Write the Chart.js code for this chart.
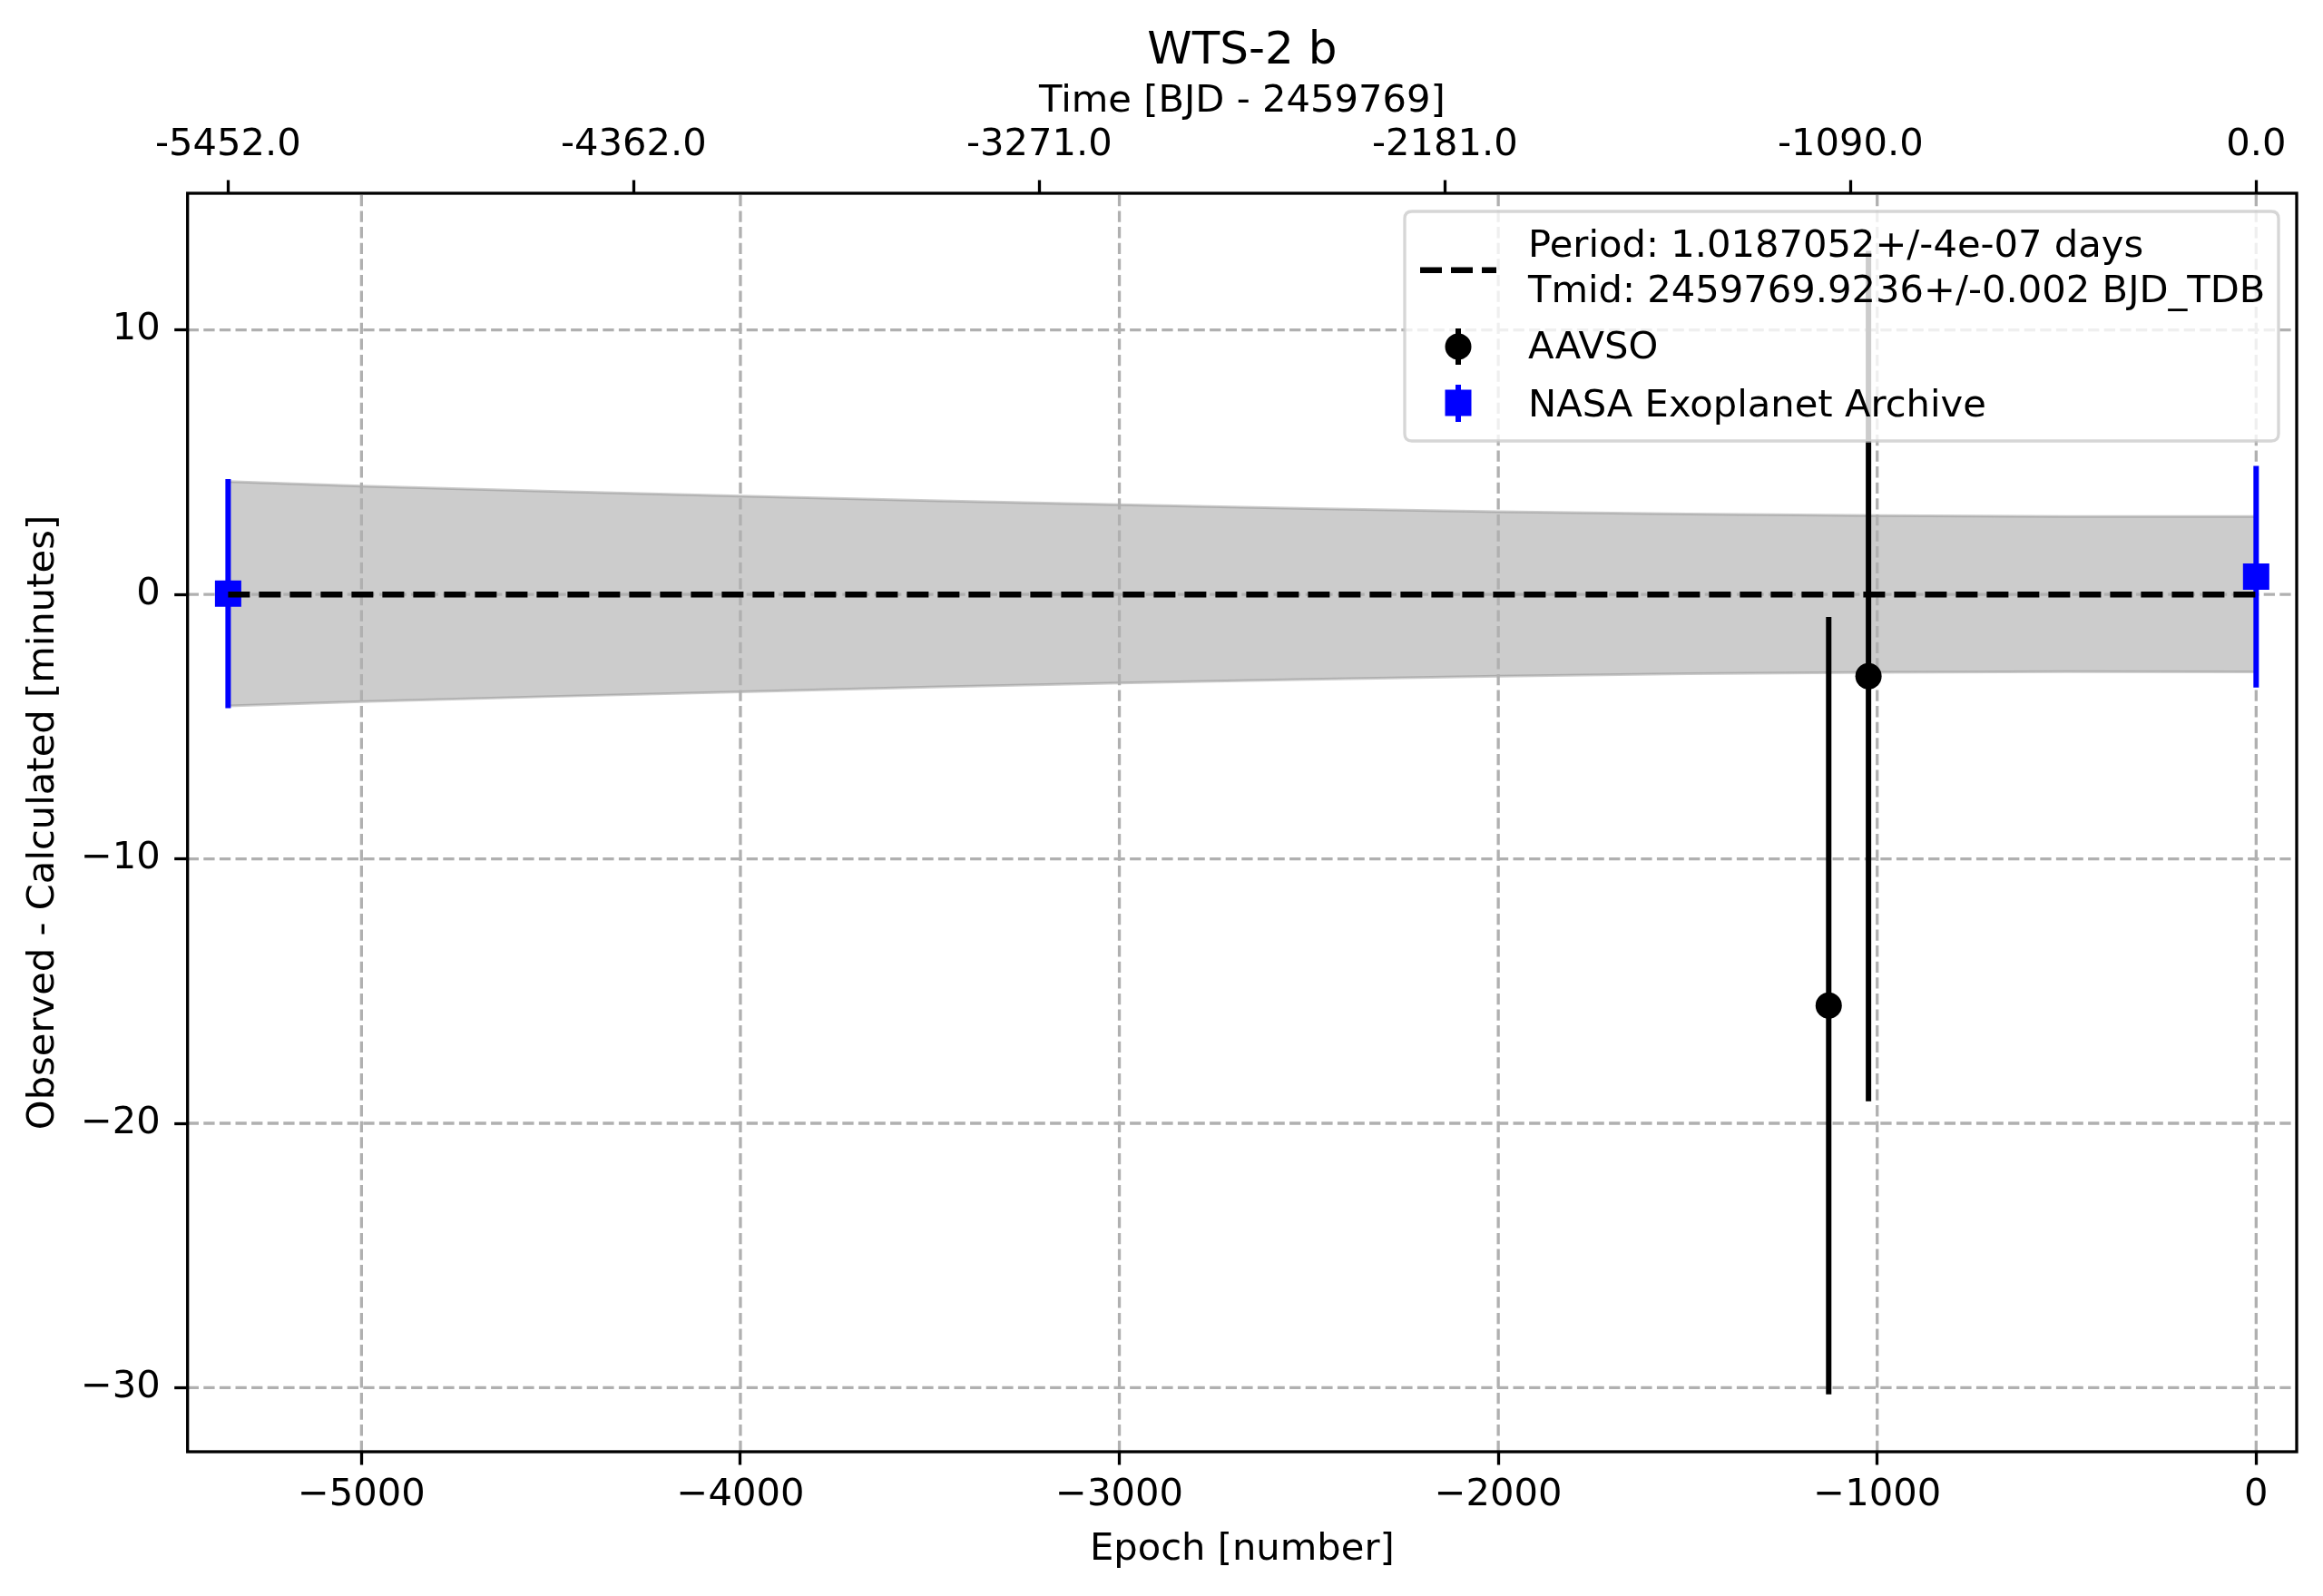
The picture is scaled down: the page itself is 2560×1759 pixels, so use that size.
<!DOCTYPE html>
<html>
<head>
<meta charset="utf-8">
<script src="https://cdn.jsdelivr.net/npm/chart.js@4"></script>
<style>
html, body { margin: 0; padding: 0; background: #ffffff; }
canvas { display: block; }
</style>
</head>
<body>
<canvas id="c" width="2560" height="1759" style="width:2560px;height:1759px"></canvas>
<script>
// ---- text ----
const chartTitle = 'WTS-2 b';
const xAxisTitle = 'Epoch [number]';
const topAxisTitle = 'Time [BJD - 2459769]';
const yAxisTitle = 'Observed - Calculated [minutes]';
const fitLabel = ['Period: 1.0187052+/-4e-07 days', 'Tmid: 2459769.9236+/-0.002 BJD_TDB'];
const aavsoLabel = 'AAVSO';
const nasaLabel = 'NASA Exoplanet Archive';

// ---- data ----
const aavsoEpochs = [-1128, -1023];
const aavsoOC = [-15.55, -3.09];
const aavsoErr = [14.7, 16.08];

const nasaEpochs = [-5352, 0];
const nasaOC = [0.03, 0.67];
const nasaErr = [4.33, 4.19];

const fitEpochs = [-5352, 0];
const fitOC = [0, 0];

const bandEpochs = [-5352, -5000, -4500, -4000, -3500, -3000, -2500, -2000, -1500, -1000, -500, 0];
const bandUpper = [4.27, 4.10, 3.90, 3.72, 3.55, 3.39, 3.25, 3.13, 3.04, 2.98, 2.95, 2.95];
const bandLower = [-4.22, -4.05, -3.86, -3.68, -3.50, -3.35, -3.21, -3.09, -3.00, -2.95, -2.92, -2.93];

// ---- ticks ----
const xTicks = [-5000, -4000, -3000, -2000, -1000, 0];
const xTickLabels = ['\u22125000', '\u22124000', '\u22123000', '\u22122000', '\u22121000', '0'];
const yTicks = [-30, -20, -10, 0, 10];
const yTickLabels = ['\u221230', '\u221220', '\u221210', '0', '10'];
const topTickEpochs = [-5352, -4281.6, -3211.2, -2140.8, -1070.4, 0];
const topTickLabels = ['-5452.0', '-4362.0', '-3271.0', '-2181.0', '-1090.0', '0.0'];

// ---- axis limits ----
const xMin = -5459, xMax = 107;
const yMin = -32.42, yMax = 15.17;

const FAMILY = 'DejaVu Sans';
const FS = 41.67;
const font = (size) => ({ family: FAMILY, size: size, weight: 'normal', lineHeight: 1.2 });
const toPts = (xs, ys) => xs.map((x, i) => ({ x: x, y: ys[i] }));

const gridStyle = { color: '#b0b0b0', width: 3.3, dash: [12.3, 5.3] };

const gridPlugin = {
  id: 'mplGrid',
  afterDatasetDraw(chart, args) {
    if (args.index !== 1) return;
    const ctx = chart.ctx, ca = chart.chartArea;
    const xs = chart.scales.x, ys = chart.scales.y;
    ctx.save();
    ctx.beginPath();
    ctx.rect(ca.left, ca.top, ca.right - ca.left, ca.bottom - ca.top);
    ctx.clip();
    ctx.strokeStyle = gridStyle.color;
    ctx.lineWidth = gridStyle.width;
    ctx.setLineDash(gridStyle.dash);
    xTicks.forEach(v => {
      const px = xs.getPixelForValue(v);
      ctx.beginPath(); ctx.moveTo(px, ca.bottom); ctx.lineTo(px, ca.top); ctx.stroke();
    });
    yTicks.forEach(v => {
      const py = ys.getPixelForValue(v);
      ctx.beginPath(); ctx.moveTo(ca.left, py); ctx.lineTo(ca.right, py); ctx.stroke();
    });
    ctx.restore();
  }
};

const errorBarPlugin = {
  id: 'errorBars',
  beforeDatasetDraw(chart, args) {
    const ds = chart.data.datasets[args.index];
    if (!ds.errors) return;
    const ctx = chart.ctx, ca = chart.chartArea;
    const xs = chart.scales.x, ys = chart.scales.y;
    ctx.save();
    ctx.beginPath();
    ctx.rect(ca.left, ca.top, ca.right - ca.left, ca.bottom - ca.top);
    ctx.clip();
    ctx.strokeStyle = ds.errorColor;
    ctx.lineWidth = 6;
    ctx.setLineDash([]);
    ds.data.forEach((p, i) => {
      const px = xs.getPixelForValue(p.x);
      ctx.beginPath();
      ctx.moveTo(px, ys.getPixelForValue(p.y - ds.errors[i]));
      ctx.lineTo(px, ys.getPixelForValue(p.y + ds.errors[i]));
      ctx.stroke();
    });
    ctx.restore();
  }
};

const frameLegendPlugin = {
  id: 'frameLegend',
  afterDatasetsDraw(chart) {
    const ctx = chart.ctx, ca = chart.chartArea;
    ctx.save();
    // frame (spines)
    ctx.setLineDash([]);
    ctx.strokeStyle = '#000000';
    ctx.lineWidth = 3.3;
    ctx.strokeRect(ca.left, ca.top, ca.right - ca.left, ca.bottom - ca.top);

    // legend
    const bx = 1548, by = 233, bw = 963, bh = 253, r = 8;
    ctx.beginPath();
    ctx.moveTo(bx + r, by);
    ctx.lineTo(bx + bw - r, by);
    ctx.quadraticCurveTo(bx + bw, by, bx + bw, by + r);
    ctx.lineTo(bx + bw, by + bh - r);
    ctx.quadraticCurveTo(bx + bw, by + bh, bx + bw - r, by + bh);
    ctx.lineTo(bx + r, by + bh);
    ctx.quadraticCurveTo(bx, by + bh, bx, by + bh - r);
    ctx.lineTo(bx, by + r);
    ctx.quadraticCurveTo(bx, by, bx + r, by);
    ctx.closePath();
    ctx.fillStyle = 'rgba(255,255,255,0.8)';
    ctx.fill();
    ctx.strokeStyle = 'rgba(204,204,204,0.8)';
    ctx.lineWidth = 3.3;
    ctx.stroke();

    const ds = chart.data.datasets;
    const tx = 1684;
    ctx.fillStyle = '#000000';
    ctx.font = FS + 'px "' + FAMILY + '"';
    ctx.textAlign = 'left';
    ctx.textBaseline = 'alphabetic';

    // fit line handle
    ctx.strokeStyle = '#000000';
    ctx.lineWidth = 6.5;
    ctx.setLineDash([24, 10]);
    ctx.beginPath(); ctx.moveTo(1565, 297.7); ctx.lineTo(1649, 297.7); ctx.stroke();
    ctx.setLineDash([]);
    const fl = ds[4].label;
    ctx.fillText(fl[0], tx, 283);
    ctx.fillText(fl[1], tx, 333);

    // AAVSO handle
    ctx.lineWidth = 6;
    ctx.strokeStyle = '#000000';
    ctx.beginPath(); ctx.moveTo(1607, 362); ctx.lineTo(1607, 402); ctx.stroke();
    ctx.beginPath(); ctx.arc(1607, 382, 14.5, 0, Math.PI * 2); ctx.fill();
    ctx.fillText(ds[2].label, tx, 395);

    // NASA handle
    ctx.strokeStyle = '#0000ff';
    ctx.fillStyle = '#0000ff';
    ctx.beginPath(); ctx.moveTo(1607, 424); ctx.lineTo(1607, 465); ctx.stroke();
    ctx.fillRect(1607 - 14.5, 444 - 14.5, 29, 29);
    ctx.fillStyle = '#000000';
    ctx.fillText(ds[3].label, tx, 459);
    ctx.restore();
  }
};

const tickGrid = { display: true, drawOnChartArea: false, drawTicks: true, tickLength: 14.5, tickColor: '#000000', tickWidth: 3.3 };

new Chart(document.getElementById('c'), {
  type: 'line',
  data: {
    datasets: [
      {
        label: 'band upper',
        data: toPts(bandEpochs, bandUpper),
        borderColor: 'rgba(128,128,128,0.4)', borderWidth: 3,
        backgroundColor: 'rgba(128,128,128,0.4)',
        fill: '+1', pointRadius: 0, tension: 0, order: 10
      },
      {
        label: 'band lower',
        data: toPts(bandEpochs, bandLower),
        borderColor: 'rgba(128,128,128,0.4)', borderWidth: 3,
        fill: false, pointRadius: 0, tension: 0, order: 9
      },
      {
        label: aavsoLabel,
        data: toPts(aavsoEpochs, aavsoOC),
        errors: aavsoErr, errorColor: '#000000',
        showLine: false, pointStyle: 'circle', pointRadius: 14.5, pointHoverRadius: 14.5,
        pointBackgroundColor: '#000000', pointBorderColor: '#000000', pointBorderWidth: 0,
        order: 3
      },
      {
        label: nasaLabel,
        data: toPts(nasaEpochs, nasaOC),
        errors: nasaErr, errorColor: '#0000ff',
        showLine: false, pointStyle: 'rect', pointRadius: 20.5, pointHoverRadius: 20.5,
        pointBackgroundColor: '#0000ff', pointBorderColor: '#0000ff', pointBorderWidth: 0,
        order: 2
      },
      {
        label: fitLabel,
        data: toPts(fitEpochs, fitOC),
        borderColor: '#000000', borderWidth: 6.5, borderDash: [24, 10],
        fill: false, pointRadius: 0, tension: 0, order: 1
      }
    ]
  },
  options: {
    responsive: false,
    maintainAspectRatio: false,
    devicePixelRatio: 1,
    animation: false,
    events: [],
    layout: { padding: { left: 0, right: 29, top: 0, bottom: 0 } },
    plugins: {
      legend: { display: false },
      tooltip: { enabled: false },
      title: {
        display: true, text: chartTitle, color: '#000000', font: font(50),
        padding: { top: 27, bottom: 0 }, fullSize: false
      }
    },
    scales: {
      x: {
        type: 'linear', position: 'bottom', min: xMin, max: xMax, bounds: 'data',
        afterBuildTicks: s => { s.ticks = xTicks.map(v => ({ value: v })); },
        afterFit: s => { s.height = 159; },
        ticks: { autoSkip: false, maxRotation: 0, minRotation: 0, padding: 8.3, color: '#000000', font: font(FS),
                 callback: (v, i) => xTickLabels[i] },
        grid: tickGrid,
        border: { display: false },
        title: { display: true, text: xAxisTitle, color: '#000000', font: font(FS), padding: { top: 0, bottom: 26 } }
      },
      x2: {
        type: 'linear', position: 'top', min: xMin, max: xMax, bounds: 'data',
        afterBuildTicks: s => { s.ticks = topTickEpochs.map(v => ({ value: v })); },
        afterFit: s => { s.height = 126; },
        ticks: { autoSkip: false, maxRotation: 0, minRotation: 0, padding: 12.9, color: '#000000', font: font(FS),
                 callback: (v, i) => topTickLabels[i] },
        grid: tickGrid,
        border: { display: false },
        title: { display: true, text: topAxisTitle, color: '#000000', font: font(FS), padding: { top: 0, bottom: 0 } }
      },
      y: {
        type: 'linear', position: 'left', min: yMin, max: yMax, bounds: 'data',
        afterBuildTicks: s => { s.ticks = yTicks.map(v => ({ value: v })); },
        afterFit: s => { s.width = 206.7; },
        ticks: { autoSkip: false, padding: 15.4, color: '#000000', font: font(FS),
                 callback: (v, i) => yTickLabels[i] },
        grid: tickGrid,
        border: { display: false },
        title: { display: true, text: yAxisTitle, color: '#000000', font: font(FS), padding: { top: 23.3, bottom: 0 } }
      }
    }
  },
  plugins: [gridPlugin, errorBarPlugin, frameLegendPlugin]
});
</script>
</body>
</html>
